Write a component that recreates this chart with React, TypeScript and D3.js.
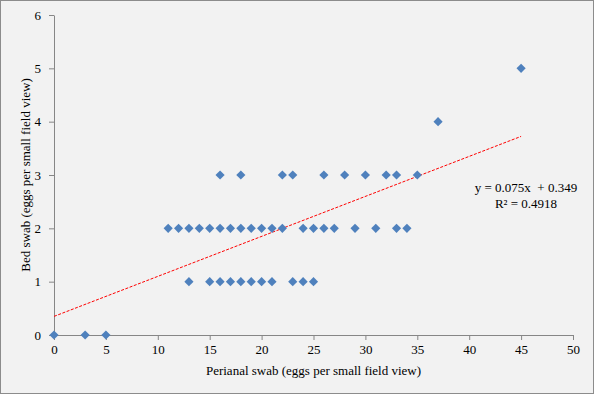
import React, { useRef, useEffect } from "react";
import * as d3 from "d3";

// perianal swab counts for each bed swab level
const zeroRow = [0, 3, 5];
const oneRow = [13, 15, 16, 17, 18, 19, 20, 21, 23, 24, 25];
const twoRow = [11, 12, 13, 14, 15, 16, 17, 18, 19, 20, 21, 22, 24, 25, 26, 27, 29, 31, 33, 34];
const threeRow = [16, 18, 22, 23, 26, 28, 30, 32, 33, 35];
const fourRow = [37];
const fiveRow = [45];

const xTicks = [0, 5, 10, 15, 20, 25, 30, 35, 40, 45, 50];
const yTicks = [0, 1, 2, 3, 4, 5, 6];

const slope = 0.075;
const intercept = 0.349;
const trendRange = [0, 45];

const App: React.FC = () => {
  const svgRef = useRef<SVGSVGElement | null>(null);

  useEffect(() => {
    if (!svgRef.current) return;
    const width = 594;
    const height = 394;
    const margin = { top: 15, right: 21, bottom: 59, left: 54 };
    const font = "'Liberation Serif', 'Times New Roman', serif";
    const axisColor = "#868686";

    const svg = d3.select(svgRef.current);
    svg.selectAll("*").remove();

    svg.append("rect")
      .attr("x", 0.5)
      .attr("y", 0.5)
      .attr("width", width - 1)
      .attr("height", height - 1)
      .attr("fill", "#f2f2f2")
      .attr("stroke", "#8c8c8c");

    const x = d3.scaleLinear().domain([0, 50]).range([margin.left, width - margin.right]);
    const y = d3.scaleLinear().domain([0, 6]).range([height - margin.bottom, margin.top]);

    // axes
    const xAxis = svg.append("g")
      .attr("transform", `translate(0,${y(0)})`)
      .call(d3.axisBottom(x).tickValues(xTicks).tickFormat(d3.format("d")).tickSize(5).tickSizeOuter(0).tickPadding(5));
    const yAxis = svg.append("g")
      .attr("transform", `translate(${x(0)},0)`)
      .call(d3.axisLeft(y).tickValues(yTicks).tickFormat(d3.format("d")).tickSize(5).tickSizeOuter(0).tickPadding(8));

    [xAxis, yAxis].forEach((ax) => {
      ax.select(".domain").attr("stroke", axisColor);
      ax.selectAll("line").attr("stroke", axisColor);
      ax.selectAll("text")
        .attr("fill", "#000")
        .style("font-family", font)
        .style("font-size", "13px");
    });

    // trendline
    svg.append("line")
      .attr("x1", x(trendRange[0]))
      .attr("y1", y(slope * trendRange[0] + intercept))
      .attr("x2", x(trendRange[1]))
      .attr("y2", y(slope * trendRange[1] + intercept))
      .attr("stroke", "#ff0000")
      .attr("stroke-width", 1)
      .attr("stroke-dasharray", "3,1.5");

    // points
    const rows: [number, number[]][] = [
      [0, zeroRow],
      [1, oneRow],
      [2, twoRow],
      [3, threeRow],
      [4, fourRow],
      [5, fiveRow],
    ];
    const points = rows.flatMap(([level, xs]) => xs.map((v) => ({ x: v, y: level })));
    const diamond = d3.symbol().type(d3.symbolSquare).size(42);

    svg.append("g")
      .selectAll("path")
      .data(points)
      .join("path")
      .attr("d", diamond)
      .attr("transform", (d) => `translate(${x(d.x)},${y(d.y)}) rotate(45)`)
      .attr("fill", "#4f81bd");

    // equation label
    const eq = svg.append("g").style("font-family", font).style("font-size", "13px");
    eq.append("text")
      .attr("x", 526)
      .attr("y", 192)
      .attr("text-anchor", "middle")
      .attr("xml:space", "preserve")
      .text("y = 0.075x  + 0.349");
    eq.append("text")
      .attr("x", 526)
      .attr("y", 208)
      .attr("text-anchor", "middle")
      .text("R² = 0.4918");

    // axis titles
    svg.append("text")
      .attr("x", (x(0) + x(50)) / 2)
      .attr("y", 375)
      .attr("text-anchor", "middle")
      .style("font-family", font)
      .style("font-size", "13px")
      .text("Perianal swab (eggs per small field view)");

    svg.append("text")
      .attr("transform", `translate(30,${(y(0) + y(6)) / 2}) rotate(-90)`)
      .attr("text-anchor", "middle")
      .style("font-family", font)
      .style("font-size", "13px")
      .text("Bed swab (eggs per small field view)");
  }, []);

  return (
    <svg
      ref={svgRef}
      width={594}
      height={394}
      style={{ position: "absolute", left: 0, top: 0 }}
    />
  );
};

export default App;
